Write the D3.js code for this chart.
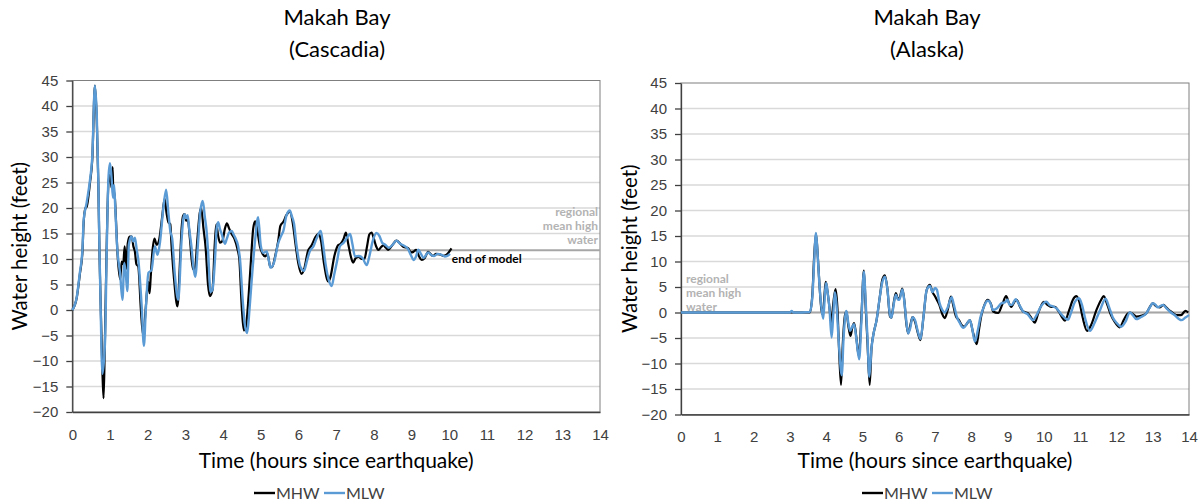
<!DOCTYPE html>
<html>
<head>
<meta charset="utf-8">
<script src="https://cdn.jsdelivr.net/npm/d3@7"></script>
<style>
  body { margin: 0; background: #fff; }
  svg { font-family: Lato, "Open Sans", sans-serif; }
  .axis .domain, .axis line { stroke: #404040; stroke-width: 1.3px; }
  .axis text { font-size: 15px; fill: #404040; }
</style>
</head>
<body>
<script>

// hours since earthquake / water height (feet)

// Makah Bay (Cascadia) - MHW
var cascMhwT = [0, 0.12, 0.2, 0.27, 0.3, 0.35, 0.38, 0.47, 0.53, 0.6, 0.65, 0.69, 0.72, 0.74, 0.8, 0.83, 0.86, 0.9, 0.96, 1.0, 1.04, 1.07, 1.09, 1.12, 1.15, 1.2, 1.27, 1.31, 1.35, 1.39, 1.43, 1.47, 1.52, 1.58, 1.62, 1.66, 1.7, 1.75, 1.82, 1.88, 1.94, 1.98, 2.02, 2.05, 2.08, 2.12, 2.18, 2.24, 2.3, 2.38, 2.45, 2.5, 2.55, 2.6, 2.63, 2.7, 2.79, 2.86, 2.9, 2.94, 2.98, 3.02, 3.06, 3.12, 3.2, 3.25, 3.32, 3.38, 3.42, 3.48, 3.54, 3.6, 3.65, 3.72, 3.78, 3.82, 3.87, 3.92, 3.98, 4.05, 4.1, 4.16, 4.22, 4.3, 4.38, 4.43, 4.5, 4.55, 4.6, 4.68, 4.75, 4.8, 4.85, 4.9, 4.98, 5.05, 5.12, 5.18, 5.25, 5.3, 5.38, 5.46, 5.52, 5.6, 5.68, 5.77, 5.85, 5.92, 6.0, 6.08, 6.15, 6.25, 6.35, 6.45, 6.54, 6.6, 6.68, 6.79, 6.85, 6.95, 7.05, 7.12, 7.2, 7.26, 7.32, 7.39, 7.45, 7.52, 7.6, 7.68, 7.75, 7.82, 7.88, 7.94, 8.0, 8.06, 8.12, 8.2, 8.25, 8.32, 8.38, 8.48, 8.6, 8.7, 8.78, 8.91, 8.98, 9.05, 9.12, 9.2, 9.27, 9.35, 9.44, 9.5, 9.57, 9.65, 9.75, 9.85, 9.92, 10.06];
var cascMhwV = [0, 2.5, 7, 11.5, 17, 20, 20.2, 25, 29.5, 44, 37, 25, 11.5, 5, -12.4, -17.3, -8, 8, 25, 26.5, 24, 28, 22.2, 23, 19, 11, 6, 9.5, 9, 12.5, 8, 13, 14.4, 14.4, 12.5, 11.5, 9, 8.5, 0, -5, -0.5, 3.5, 5.5, 3.3, 6.5, 11, 14, 12.8, 13.6, 18, 21.8, 19, 17.2, 16.8, 13, 6, 0.7, 10, 16, 18.5, 18.8, 17.5, 18, 14, 8, 8, 14, 19, 20, 16, 12, 5, 2.7, 4, 13, 16.8, 14.5, 13.2, 13.5, 16, 17, 16, 15, 14, 12, 10, 0, -4, -3.5, 3, 11, 16, 17.4, 16, 12.4, 11, 10.5, 11, 8.5, 8.4, 10.5, 13.4, 16.5, 17.3, 18.6, 19.3, 17, 13, 9, 7.1, 8, 11.5, 12.7, 14.3, 15, 13.5, 9, 5.6, 6.5, 10.5, 12.7, 13, 14, 15.2, 13, 10.5, 9.3, 10.2, 10.4, 10, 10, 12.5, 14.8, 15.2, 14, 12.5, 11.8, 12.4, 12.7, 12.2, 11.8, 12.6, 13.6, 13, 12.4, 12.1, 11.3, 11.4, 11.8, 10.5, 9.8, 10.2, 11.4, 11, 10.6, 11, 10.9, 10.6, 10.8, 12.1];

// Makah Bay (Cascadia) - MLW
var cascMlwT = [0, 0.12, 0.2, 0.27, 0.3, 0.38, 0.47, 0.53, 0.6, 0.65, 0.69, 0.72, 0.74, 0.8, 0.87, 0.91, 0.96, 1.0, 1.04, 1.08, 1.11, 1.14, 1.19, 1.27, 1.33, 1.38, 1.42, 1.46, 1.5, 1.57, 1.62, 1.66, 1.71, 1.75, 1.84, 1.9, 1.95, 2.02, 2.1, 2.19, 2.26, 2.33, 2.41, 2.49, 2.55, 2.6, 2.65, 2.72, 2.81, 2.9, 2.94, 2.98, 3.02, 3.06, 3.1, 3.17, 3.21, 3.26, 3.34, 3.39, 3.46, 3.52, 3.56, 3.6, 3.67, 3.72, 3.79, 3.83, 3.87, 3.92, 3.96, 4.05, 4.1, 4.16, 4.23, 4.28, 4.32, 4.4, 4.45, 4.52, 4.58, 4.64, 4.7, 4.76, 4.85, 4.93, 5.0, 5.07, 5.16, 5.22, 5.26, 5.35, 5.46, 5.55, 5.6, 5.68, 5.77, 5.82, 5.88, 5.95, 6.05, 6.15, 6.22, 6.3, 6.4, 6.48, 6.59, 6.65, 6.72, 6.8, 6.88, 6.95, 7.03, 7.1, 7.2, 7.3, 7.37, 7.43, 7.5, 7.6, 7.7, 7.81, 7.88, 7.97, 8.07, 8.15, 8.22, 8.3, 8.4, 8.5, 8.6, 8.7, 8.8, 8.9, 9.0, 9.05, 9.12, 9.18, 9.25, 9.32, 9.44, 9.52, 9.6, 9.7, 9.8, 9.88, 9.95, 10.02];
var cascMlwV = [0, 2.6, 7.3, 12, 17.5, 21, 25.5, 30, 44, 38, 25.5, 12, 5, -12.5, -5.9, 10.4, 26, 28.8, 26, 22, 24.5, 20, 12.4, 7, 2, 9.2, 7, 3.7, 12.8, 14.4, 13.4, 14.2, 11.8, 9.9, 0.8, -7, 0, 7.3, 7.8, 12.5, 10.8, 13.5, 19.6, 23.6, 19, 15.5, 14, 7, 2, 13.8, 17.6, 18.8, 18, 18.6, 16, 11.8, 8.6, 6.5, 13.6, 19, 21.4, 18, 15.7, 11.8, 3.5, 4, 10.5, 16, 17.2, 15.8, 15, 13, 14, 15.2, 15.5, 14.8, 14.2, 12.5, 9.9, 2, -3, -4.5, 0, 5.9, 13.7, 18.2, 12.6, 11.2, 11.5, 9.5, 8.3, 9.3, 13, 14.7, 15.5, 18.5, 19.5, 18.5, 17, 12.6, 8.5, 7.7, 9.5, 11.5, 12.5, 14, 15.5, 13, 9, 6, 4.7, 7, 9.8, 12.5, 13.2, 14.3, 14.9, 13, 10.5, 10.6, 10.2, 8.8, 10.5, 13.5, 15.1, 14.5, 13.2, 12.8, 12.2, 12.8, 13.6, 13, 12.6, 12, 10.5, 9.8, 10.5, 11.8, 11, 10.2, 11.3, 10.8, 10.6, 11, 10.8, 10.5, 10.6, 11];

// Makah Bay (Alaska) - MHW
var alasMhwT = [0, 3.55, 3.62, 3.67, 3.72, 3.77, 3.82, 3.87, 3.91, 3.96, 3.99, 4.03, 4.09, 4.14, 4.2, 4.26, 4.31, 4.36, 4.41, 4.46, 4.52, 4.56, 4.61, 4.67, 4.72, 4.77, 4.81, 4.84, 4.9, 4.97, 5.04, 5.09, 5.14, 5.2, 5.25, 5.3, 5.39, 5.48, 5.55, 5.62, 5.69, 5.76, 5.8, 5.86, 5.92, 5.98, 6.02, 6.1, 6.16, 6.2, 6.26, 6.32, 6.38, 6.45, 6.52, 6.6, 6.68, 6.77, 6.86, 6.93, 7.0, 7.05, 7.12, 7.2, 7.27, 7.35, 7.44, 7.5, 7.58, 7.66, 7.74, 7.8, 7.88, 7.96, 8.05, 8.15, 8.22, 8.28, 8.33, 8.45, 8.55, 8.6, 8.74, 8.85, 8.96, 9.03, 9.1, 9.2, 9.25, 9.35, 9.43, 9.55, 9.65, 9.75, 9.85, 10.0, 10.1, 10.2, 10.3, 10.4, 10.49, 10.58, 10.7, 10.8, 10.9, 10.98, 11.07, 11.19, 11.3, 11.45, 11.58, 11.65, 11.75, 11.85, 11.95, 12.09, 12.2, 12.3, 12.37, 12.45, 12.55, 12.7, 12.82, 12.9, 13.0, 13.1, 13.2, 13.29, 13.4, 13.5, 13.65, 13.78, 13.9, 13.98];
var alasMhwV = [0, 0, 3.5, 11, 15.4, 11, 5, 0.5, -0.4, 4, 6, 4.5, 1.1, -2, 2, 4.6, 1, -8, -14.2, -6, -0.5, 0.2, -2.5, -4.6, -3, -2.1, -3.5, -5.4, -8.5, -1, 8.2, 1, -6, -14.2, -7, -4.4, -1.5, 3.1, 6.5, 7.3, 4.5, -0.8, -1, 1.8, 3.8, 2.7, 2.8, 4.7, 2, -1.5, -4.1, -2.5, -0.9, -1.8, -3.8, -5.4, -1, 4.4, 5.4, 4, 3.2, 2.5, 1.5, -0.3, -1.1, 0.5, 3.1, 1.5, -0.8, -1.5, -2.5, -2.8, -2.2, -1.5, -4, -6.2, -3, -0.5, 0.8, 2.5, 1.5, 0.2, -0.1, 1.5, 3.2, 2, 1.1, 2.2, 2.5, 1, 0.2, -0.1, -1, -2, 0, 2.1, 1.5, 1.1, 1.1, 0.3, -0.8, -1.6, 0.5, 2.5, 3.2, 2, -1, -3.6, -2.5, 0.5, 2.5, 3.2, 1.5, -0.5, -1.8, -2.9, -1.5, -0.3, 0, -0.3, -0.8, -0.6, -0.2, 0.8, 1.8, 1.2, 1, 1.5, 0.8, 0.2, -0.5, -0.5, 0.3, 0];

// Makah Bay (Alaska) - MLW
var alasMlwT = [0, 3.0, 3.05, 3.1, 3.55, 3.62, 3.67, 3.72, 3.76, 3.81, 3.87, 3.92, 3.97, 4.0, 4.04, 4.09, 4.15, 4.2, 4.24, 4.28, 4.35, 4.43, 4.48, 4.53, 4.56, 4.61, 4.66, 4.72, 4.77, 4.83, 4.91, 4.97, 5.04, 5.09, 5.14, 5.19, 5.25, 5.3, 5.39, 5.48, 5.55, 5.62, 5.69, 5.76, 5.8, 5.86, 5.92, 5.98, 6.02, 6.1, 6.15, 6.2, 6.26, 6.32, 6.38, 6.45, 6.52, 6.6, 6.68, 6.77, 6.86, 6.93, 7.0, 7.05, 7.12, 7.2, 7.27, 7.35, 7.46, 7.52, 7.6, 7.68, 7.78, 7.85, 7.96, 8.02, 8.1, 8.18, 8.25, 8.33, 8.45, 8.51, 8.6, 8.7, 8.83, 8.93, 9.0, 9.05, 9.12, 9.22, 9.3, 9.43, 9.55, 9.7, 9.8, 9.92, 10.07, 10.15, 10.25, 10.35, 10.5, 10.67, 10.75, 10.85, 10.97, 11.05, 11.15, 11.27, 11.4, 11.55, 11.7, 11.8, 11.9, 12.0, 12.13, 12.25, 12.37, 12.45, 12.55, 12.65, 12.82, 12.92, 13.0, 13.08, 13.14, 13.22, 13.29, 13.38, 13.47, 13.6, 13.79, 13.9, 14.0];
var alasMlwV = [0, 0, 0.3, 0, 0.1, 3, 10, 15.6, 12, 6, 1, -1.2, 4, 5.8, 4, 1, -4.9, 0, 4, 2, -6, -12.3, -5, -0.5, 0.3, -2, -3.6, -2.8, -2.3, -5, -9.2, -2, 8, 2, -5, -12.6, -7, -4.4, -1.5, 3.1, 6, 7, 4.5, -0.5, -1, 1.5, 3.5, 2.5, 2.5, 4.5, 2.5, -1, -4.1, -3, -0.9, -1.5, -3.5, -5.2, -1, 4.4, 5.2, 4, 4.8, 4.5, 2, 0.5, 0, 1, 3, 1.5, -0.8, -2, -3, -2.5, -1.5, -3, -5.7, -3.5, -1, 0.8, 2.3, 2.1, 0.5, 0.8, 1.8, 2, 2.5, 1.5, 1.5, 2.6, 1.8, 0.2, -0.3, -1.5, -0.5, 1.2, 2.1, 1.5, 1.2, 0.8, -0.5, -1.4, 0, 2, 2.8, 1.5, -1.5, -3.6, -2, 0.5, 2.7, 1, -1, -2, -2.8, -1.8, 0, -0.5, -1.3, -1, -0.2, 1, 1.8, 1.5, 1, 1.3, 1.5, 0.8, 0.2, -0.5, -1.5, -1, -0.5];

var yTicks = d3.range(-20, 46, 5);
var xTicks = d3.range(0, 15, 1);
var seriesNames = ["MHW", "MLW"];
var seriesColors = ["#000000", "#5b9bd5"];

var svg = d3.select("body").append("svg")
    .attr("width", 1202)
    .attr("height", 504);

function zip(ts, vs) {
    return ts.map(function(t, i) { return { t: t, v: vs[i] }; });
}

function drawPanel(p) {
    var x = d3.scaleLinear().domain([0, 14]).range([p.left, p.right]);
    var y = d3.scaleLinear().domain([-20, 45]).range([p.bottom, p.top]);
    var g = svg.append("g");

    // gridlines
    g.append("g").selectAll("line")
        .data(yTicks.filter(function(d) { return d > -20 && d < 45; }))
        .enter().append("line")
        .attr("x1", p.left).attr("x2", p.right)
        .attr("y1", function(d) { return y(d); })
        .attr("y2", function(d) { return y(d); })
        .attr("stroke", "#d9d9d9")
        .attr("stroke-width", 1.3);

    // plot frame
    g.append("rect")
        .attr("x", p.left).attr("y", p.top)
        .attr("width", p.right - p.left).attr("height", p.bottom - p.top)
        .attr("fill", "none")
        .attr("stroke", "#7f7f7f")
        .attr("stroke-width", 1);

    // regional mean high water
    g.append("line")
        .attr("x1", p.left).attr("x2", p.right)
        .attr("y1", y(p.refLevel)).attr("y2", y(p.refLevel))
        .attr("stroke", "#a6a6a6")
        .attr("stroke-width", 2);

    g.append("g")
        .attr("class", "axis")
        .attr("transform", "translate(" + p.left + ",0)")
        .call(d3.axisLeft(y).tickValues(yTicks).tickSize(6).tickSizeOuter(0).tickPadding(8));

    g.append("g")
        .attr("class", "axis")
        .attr("transform", "translate(0," + p.bottom + ")")
        .call(d3.axisBottom(x).tickValues(xTicks).tickSize(0).tickPadding(17));

    var line = d3.line()
        .x(function(d) { return x(d.t); })
        .y(function(d) { return y(d.v); })
        .curve(d3.curveMonotoneX);

    g.append("path")
        .datum(zip(p.mhwT, p.mhwV))
        .attr("d", line)
        .attr("fill", "none")
        .attr("stroke", seriesColors[0])
        .attr("stroke-width", 2.2)
        .attr("stroke-linejoin", "round");

    g.append("path")
        .datum(zip(p.mlwT, p.mlwV))
        .attr("d", line)
        .attr("fill", "none")
        .attr("stroke", seriesColors[1])
        .attr("stroke-width", 2.4)
        .attr("stroke-linejoin", "round");

    // titles
    var title = g.append("text")
        .attr("text-anchor", "middle")
        .attr("font-size", 22)
        .attr("fill", "#000");
    title.append("tspan").attr("x", p.titleX).attr("y", 25).text(p.title[0]);
    title.append("tspan").attr("x", p.titleX).attr("y", 57).text(p.title[1]);

    g.append("text")
        .attr("transform", "translate(" + p.yTitleX + "," + ((p.top + p.bottom) / 2) + ") rotate(-90)")
        .attr("text-anchor", "middle")
        .attr("font-size", 20.5)
        .attr("fill", "#000")
        .text("Water height (feet)");

    g.append("text")
        .attr("x", (p.left + p.right) / 2)
        .attr("y", 468)
        .attr("text-anchor", "middle")
        .attr("font-size", 21)
        .attr("fill", "#000")
        .text("Time (hours since earthquake)");

    // annotation
    var note = g.append("text")
        .attr("text-anchor", p.noteAnchor)
        .attr("font-size", 12)
        .attr("font-weight", "bold")
        .attr("fill", "#b3b3b3");
    ["regional", "mean high", "water"].forEach(function(s, i) {
        note.append("tspan").attr("x", p.noteX).attr("y", p.noteY + i * 14).text(s);
    });

    // legend
    var lg = g.append("g").attr("transform", "translate(" + p.legendX + ",493)");
    seriesNames.forEach(function(name, i) {
        var off = i * 70;
        lg.append("line")
            .attr("x1", off).attr("x2", off + 21)
            .attr("stroke", seriesColors[i])
            .attr("stroke-width", 2.4);
        lg.append("text")
            .attr("x", off + 22).attr("y", 6)
            .attr("font-size", 16)
            .attr("fill", "#404040")
            .text(name);
    });

    return { x: x, y: y, g: g };
}

var left = drawPanel({
    left: 72.3, right: 600, top: 80.5, bottom: 412,
    title: ["Makah Bay", "(Cascadia)"], titleX: 337,
    yTitleX: 27, refLevel: 11.7,
    noteAnchor: "end", noteX: 598, noteY: 216,
    legendX: 254,
    mhwT: cascMhwT, mhwV: cascMhwV, mlwT: cascMlwT, mlwV: cascMlwV
});

left.g.append("text")
    .attr("x", left.x(10.07))
    .attr("y", 263)
    .attr("font-size", 12)
    .attr("font-weight", "bold")
    .attr("fill", "#000")
    .text("end of model");

drawPanel({
    left: 681, right: 1189, top: 83, bottom: 414.5,
    title: ["Makah Bay", "(Alaska)"], titleX: 927,
    yTitleX: 637, refLevel: 0,
    noteAnchor: "start", noteX: 686, noteY: 283,
    legendX: 862,
    mhwT: alasMhwT, mhwV: alasMhwV, mlwT: alasMlwT, mlwV: alasMlwV
});

</script>
</body>
</html>
